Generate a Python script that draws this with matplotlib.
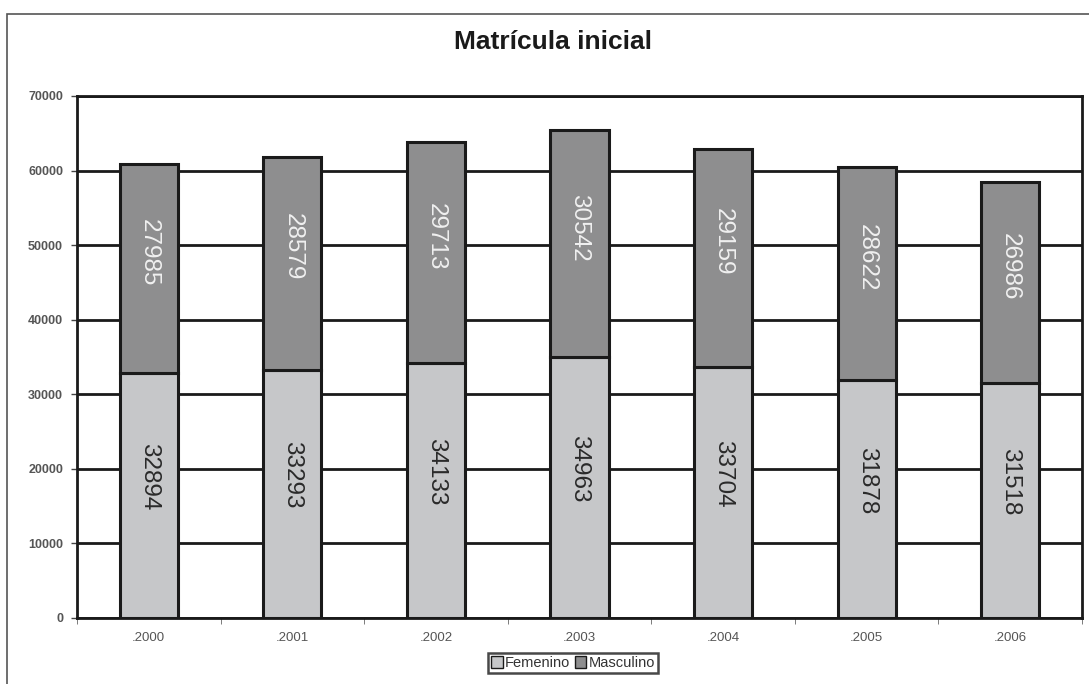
import numpy as np
import matplotlib.pyplot as plt
from matplotlib.patches import Rectangle

plt.rcParams['font.family'] = ['Liberation Sans', 'DejaVu Sans']

years = ['.2000', '.2001', '.2002', '.2003', '.2004', '.2005', '.2006']
femenino = [32894, 33293, 34133, 34963, 33704, 31878, 31518]
masculino = [27985, 28579, 29713, 30542, 29159, 28622, 26986]

col_fem = '#c6c7c9'
col_mas = '#8e8e8f'
txtgray = '#555555'

fig = plt.figure(figsize=(10.89, 6.84), dpi=100)
# outer chart frame
fig.patches.append(Rectangle((7/1089, -0.1), 1.2, 1.1 - 14/684, transform=fig.transFigure,
                             fill=False, edgecolor='#555555', linewidth=1.2))
ax = fig.add_axes([77/1089, 1 - 618/684, 1005/1089, (618 - 96)/684])

x = np.arange(len(years))
w = 0.405
ax.bar(x, femenino, w, color=col_fem, edgecolor='#1a1a1a', linewidth=2.2, label='Femenino', zorder=3)
ax.bar(x, masculino, w, bottom=femenino, color=col_mas, edgecolor='#1a1a1a', linewidth=2.2,
       label='Masculino', zorder=3)

for i in range(len(years)):
    ax.annotate(str(femenino[i]), (x[i], femenino[i] / 2), xytext=(0, 19), textcoords='offset pixels',
                rotation=-90, ha='center', va='center', fontsize=17.5, color='#2a2a2a', zorder=4)
    ax.annotate(str(masculino[i]), (x[i], femenino[i] + masculino[i] / 2), xytext=(0, 16),
                textcoords='offset pixels', rotation=-90, ha='center', va='center', fontsize=17.5,
                color='#f0f0f0', zorder=4)

ax.set_xlim(-0.5, 6.5)
ax.set_ylim(0, 70000)
ax.set_yticks(np.arange(0, 70001, 10000))
ax.set_yticklabels([str(v) for v in range(0, 70001, 10000)], fontsize=9, color=txtgray,
                   fontweight='bold')
ax.yaxis.grid(True, color='#1a1a1a', linewidth=2)
ax.set_axisbelow(True)
ax.set_xticks(x)
ax.set_xticklabels(years, fontsize=9.5, color=txtgray)
ax.tick_params(axis='x', length=0, pad=10)
ax.set_xticks(np.arange(-0.5, 7, 1), minor=True)
ax.tick_params(axis='x', which='minor', length=4, direction='out', color='#666666')
ax.tick_params(axis='y', length=4, color='#444444', width=1, pad=6)
for s in ['left', 'bottom', 'top', 'right']:
    ax.spines[s].set_linewidth(2)
    ax.spines[s].set_color('#1a1a1a')

fig.text(553/1089, 1 - 42/684, 'Matrícula inicial', ha='center', va='center', fontsize=19,
         fontweight='bold', color='#1a1a1a')

leg = fig.legend(loc='center', bbox_to_anchor=(573/1089, 1 - 663/684), ncol=2, fontsize=10.5,
                 frameon=True, fancybox=False, handlelength=0.8, handleheight=0.8,
                 handletextpad=0.15, columnspacing=0.3, borderpad=0.2, borderaxespad=0)
leg.get_frame().set_edgecolor('#1a1a1a')
leg.get_frame().set_linewidth(1.8)
for h in leg.legend_handles:
    h.set_linewidth(1)
for t in leg.get_texts():
    t.set_color('#333333')

fig.savefig('out.png', dpi=100)
